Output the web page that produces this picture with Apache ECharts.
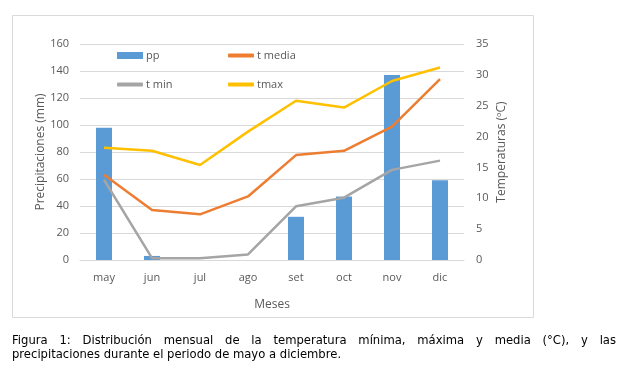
<!DOCTYPE html>
<html><head><meta charset="utf-8">
<script src="https://cdn.jsdelivr.net/npm/echarts@6/dist/echarts.min.js"></script>
<style>
html,body{margin:0;padding:0;background:#fff;}
#c{width:628px;height:373px;position:absolute;left:0;top:0;}
.cap{position:absolute;left:12px;width:604px;font-family:"DejaVu Sans",Verdana,sans-serif;font-size:11.6px;line-height:14px;color:#000;white-space:nowrap;}
#cap1{top:333px;text-align:justify;text-align-last:justify;}
#cap2{top:347px;text-align:left;}
</style></head>
<body>
<div id="c"></div>
<div class="cap" id="cap1">Figura 1: Distribución mensual de la temperatura mínima, máxima y media (°C), y las</div>
<div class="cap" id="cap2">precipitaciones durante el periodo de mayo a diciembre.</div>
<script>
const months = ['may','jun','jul','ago','set','oct','nov','dic'];
const pp = [98, 3, 0, 0, 32, 47, 137, 59];
const tMedia = [13.8, 8.1, 7.4, 10.3, 17.0, 17.7, 21.6, 29.3];
const tMin = [13.0, 0.3, 0.3, 0.9, 8.7, 10.1, 14.6, 16.1];
const tMax = [18.2, 17.7, 15.4, 20.8, 25.8, 24.7, 29.0, 31.2];
const leftTicks = {min:0, max:160, interval:20};
const rightTicks = {min:0, max:35, interval:5};

const font = '"Open Sans","Liberation Sans",sans-serif';
const grey = '#595959';
const chart = echarts.init(document.getElementById('c'));
function lg(name, left, top, icon, h){
  return {data:[{name:name, icon:icon}], left:left, top:top, itemWidth:26, itemHeight:h, itemGap:0,
    textStyle:{color:grey, fontSize:11, fontFamily:font, padding:[0,0,0,-2]}, padding:0};
}
chart.setOption({
  animation:false,
  graphic:[{type:'rect', shape:{x:12.5,y:15.5,width:521,height:302}, style:{fill:'none', stroke:'#d9d9d9', lineWidth:1}, z:-1}],
  legend:[lg('pp',117,50,'rect',7), lg('t media',228,50,'roundRect',4), lg('t min',117,79,'roundRect',4), lg('tmax',228,79,'roundRect',4)],
  grid:{left:80, right:164, top:44, bottom:113},
  xAxis:{type:'category', data:months, axisTick:{show:false},
    axisLine:{lineStyle:{color:'#d9d9d9', width:1}},
    axisLabel:{color:grey, fontSize:11, fontFamily:font, margin:12},
    name:'Meses', nameLocation:'middle', nameGap:39, nameMoveOverlap:false,
    nameTextStyle:{color:grey, fontSize:12, fontFamily:font}},
  yAxis:[
    {type:'value', min:leftTicks.min, max:leftTicks.max, interval:leftTicks.interval,
     axisLabel:{color:grey, fontSize:11, fontFamily:font, margin:11},
     splitLine:{lineStyle:{color:'#d9d9d9', width:1}},
     name:'Precipitaciones (mm)', nameLocation:'middle', nameGap:33, nameMoveOverlap:false,
     nameTextStyle:{color:grey, fontSize:12, fontFamily:font}},
    {type:'value', min:rightTicks.min, max:rightTicks.max, interval:rightTicks.interval,
     axisLabel:{color:grey, fontSize:11, fontFamily:font, margin:12},
     splitLine:{show:false},
     name:'Temperaturas (ºC)', nameLocation:'middle', nameGap:32, nameMoveOverlap:false,
     nameTextStyle:{color:grey, fontSize:12, fontFamily:font}}
  ],
  series:[
    {name:'pp', type:'bar', data:pp, barWidth:16, itemStyle:{color:'#5b9bd5'}, yAxisIndex:0},
    {name:'t media', type:'line', data:tMedia, yAxisIndex:1, symbol:'none', lineStyle:{color:'#ed7d31', width:2.5}, itemStyle:{color:'#ed7d31'}},
    {name:'t min', type:'line', data:tMin, yAxisIndex:1, symbol:'none', lineStyle:{color:'#a5a5a5', width:2.5}, itemStyle:{color:'#a5a5a5'}},
    {name:'tmax', type:'line', data:tMax, yAxisIndex:1, symbol:'none', lineStyle:{color:'#ffc000', width:2.5}, itemStyle:{color:'#ffc000'}}
  ]
});
</script>
</body></html>
